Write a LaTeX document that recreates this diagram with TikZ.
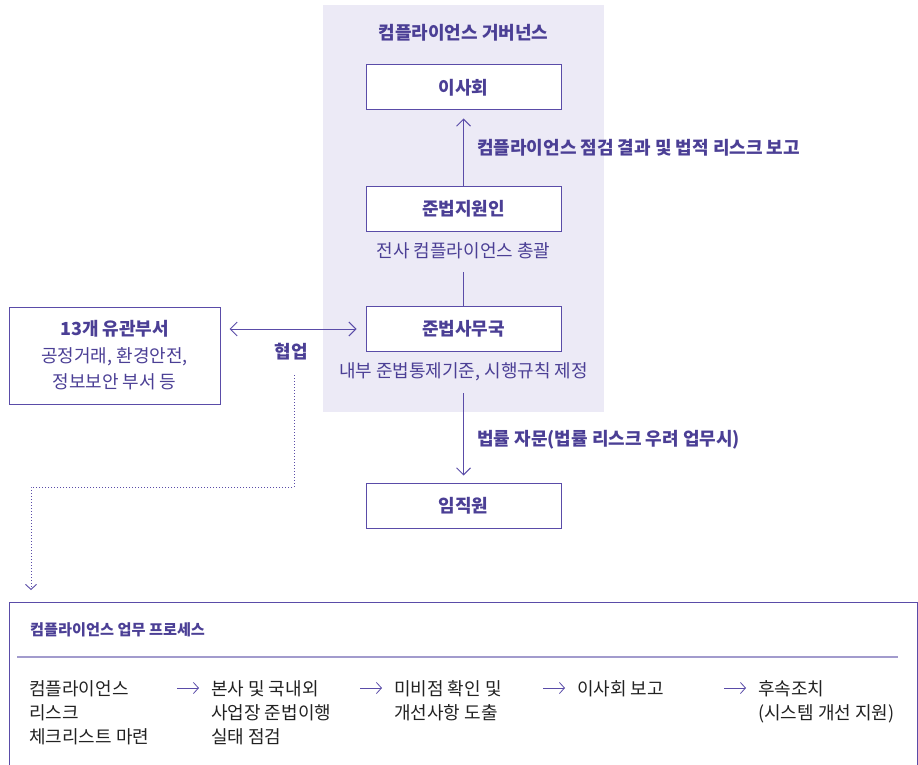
\documentclass[tikz,border=0pt]{standalone}
\usepackage{fontspec}
\setmainfont{Noto Sans CJK KR}
\usetikzlibrary{arrows.meta,positioning,calc}
\definecolor{ink}{HTML}{4B3F95}
\definecolor{edge}{HTML}{5A4CA8}
\definecolor{govbg}{HTML}{ECEAF6}
\definecolor{rulecol}{HTML}{A29BCD}
\definecolor{body}{HTML}{222222}

\begin{document}
\begin{tikzpicture}[x=1pt, y=-1pt,
  orgbox/.style={draw=edge, line width=1pt, fill=white, minimum width=195, minimum height=45, inner sep=0, text=ink, font=\bfseries\fontsize{18}{20}\selectfont},
  note/.style={text=ink, inner sep=0, font=\fontsize{18}{20}\selectfont},
  boldnote/.style={note, font=\bfseries\fontsize{18}{20}\selectfont},
  barb/.tip={Straight Barb[length=7pt,width=14pt]},
  flow/.style={draw=edge, line width=1pt, -barb},
  procitem/.style={anchor=north west, inner sep=0, align=left, text=body, font=\fontsize{18}{24}\selectfont},
  procflow/.style={draw=edge, line width=0.8pt, -{Straight Barb[length=5pt,width=11pt]}}]
  \useasboundingbox (0,0) rectangle (918,765);

  % governance panel
  \fill[govbg] (323,5) rectangle (604,412);
  \node[boldnote] (govtitle) at (463.5,33) {컴플라이언스 거버넌스};

  \node[orgbox] (board) at (463.5,87.5) {이사회};
  \node[orgbox] (officer) at (463.5,208.5) {준법지원인};
  \node[note] (officernote) at (463.5,251) {전사 컴플라이언스 총괄};
  \node[orgbox] (office) at (463.5,329) {준법사무국};
  \node[note] (officenote) at (463.5,372) {내부 준법통제기준, 시행규칙 제정};
  \node[orgbox] (staff) at (463.5,505.5) {임직원};

  \draw[flow, shorten >=8pt] (officer.north) -- (board.south);
  \node[boldnote, anchor=west] (reportlbl) at (477,148) {컴플라이언스 점검 결과 및 법적 리스크 보고};
  \coordinate (tap1) at (463.5,272);
  \draw[edge, line width=1pt] (tap1) -- (office.north);
  \coordinate (tap2) at (463.5,393);
  \draw[flow, shorten >=7pt] (tap2) -- (staff.north);
  \node[boldnote, anchor=west] (advicelbl) at (477,440) {법률 자문(법률 리스크 우려 업무시)};

  % related departments
  \node[draw=edge, line width=1pt, minimum width=211, minimum height=97, inner sep=0, align=center, text=ink,
        font=\fontsize{18}{26.5}\selectfont] (dept) at (114.5,355.5)
        {{\bfseries 13개 유관부서}\\공정거래, 환경안전,\\정보보안 부서 등};
  \draw[flow, barb-barb, shorten <=9pt, shorten >=9pt] (dept.east |- office.west) -- (office.west);
  \node[boldnote] (coop) at (291,352) {협업};
  \coordinate (bend) at (31,487);

  % process box
  \node[draw=edge, line width=1pt, minimum width=908, minimum height=175, inner sep=0, anchor=north west] (proc) at (9,602) {};
  \draw[edge, line width=0.9pt, dash pattern=on 1pt off 2pt, -{Straight Barb[length=5pt,width=11pt]}]
    (294,375) |- (bend) -- ([yshift=12pt]proc.north -| bend);
  \node[anchor=west, inner sep=0, text=ink, font=\bfseries\fontsize{15.2}{17}\selectfont] (proctitle) at (30,630) {컴플라이언스 업무 프로세스};
  \draw[rulecol, line width=1.6pt] (17,657) -- (898,657);

  \node[procitem] (p1) at (29,680) {컴플라이언스\\리스크\\체크리스트 마련};
  \node[procitem] (p2) at (211,680) {본사 및 국내외\\사업장 준법이행\\실태 점검};
  \node[procitem] (p3) at (394,680) {미비점 확인 및\\개선사항 도출};
  \node[procitem] (p4) at (577,680) {이사회 보고};
  \node[procitem] (p5) at (758,680) {후속조치\\(시스템 개선 지원)};
  \foreach \s in {p2,p3,p4,p5}
    \draw[procflow] ([xshift=-34pt,yshift=-8pt]\s.north west) -- ([xshift=-12pt,yshift=-8pt]\s.north west);
\end{tikzpicture}
\end{document}
